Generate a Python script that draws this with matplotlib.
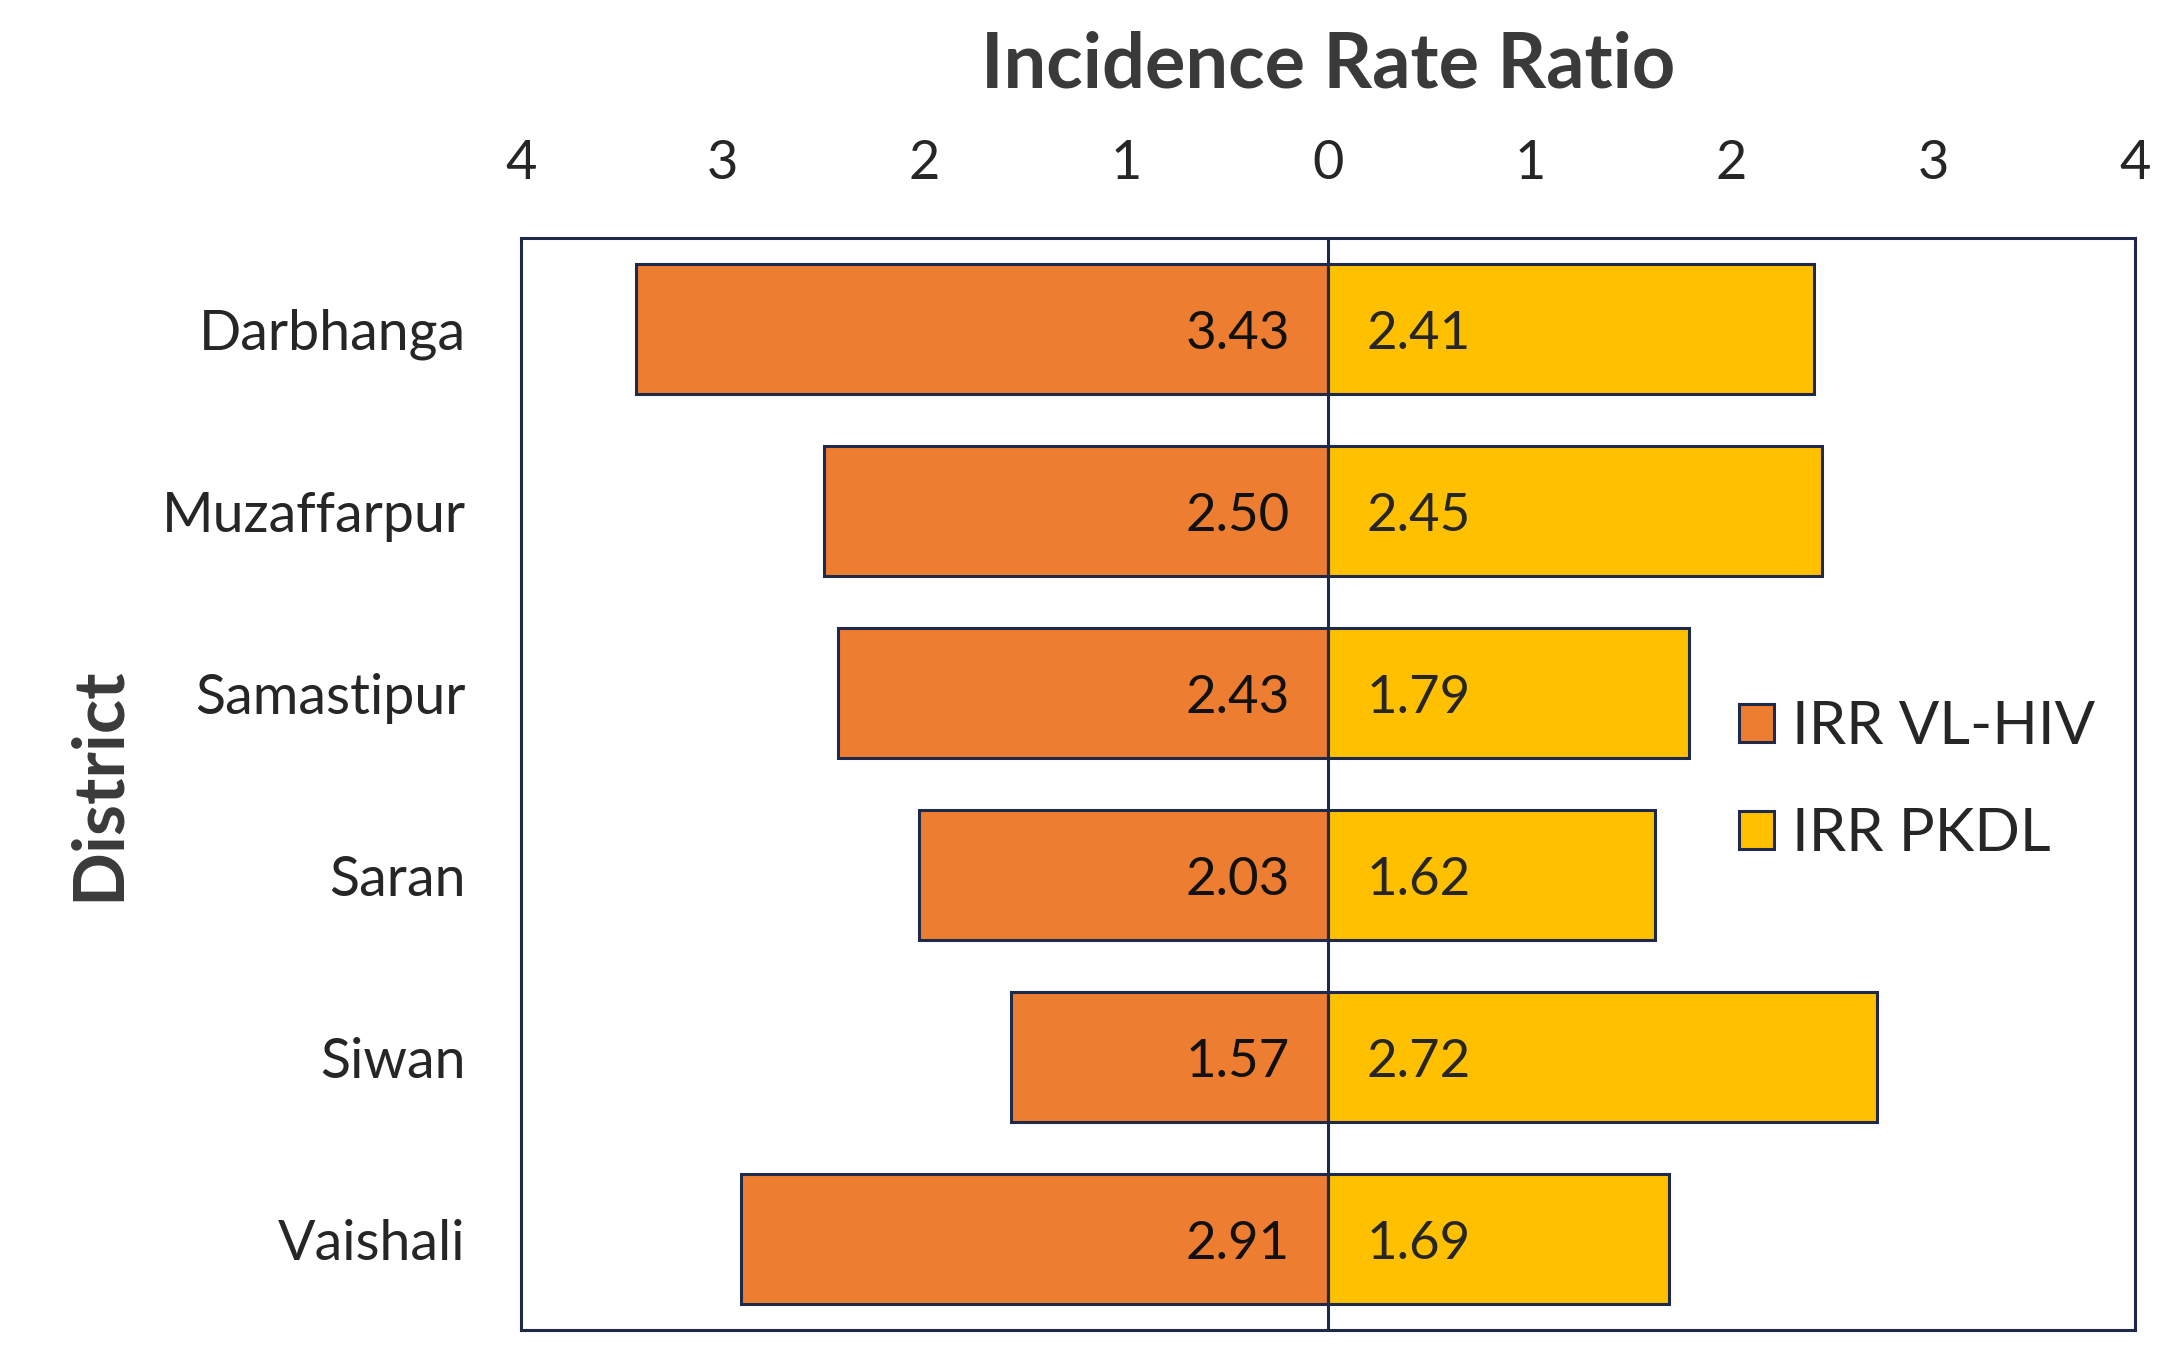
import numpy as np
import matplotlib
matplotlib.use("Agg")
import matplotlib.pyplot as plt
from matplotlib.patches import Patch

# ---------- data ----------
districts = ["Darbhanga", "Muzaffarpur", "Samastipur", "Saran", "Siwan", "Vaishali"]
irr_vl_hiv = [3.43, 2.50, 2.43, 2.03, 1.57, 2.91]
irr_pkdl   = [2.41, 2.45, 1.79, 1.62, 2.72, 1.69]
tick_vals  = [-4, -3, -2, -1, 0, 1, 2, 3, 4]

ORANGE = "#ED7D31"
YELLOW = "#FFC000"
NAVY   = "#1F2A4A"
TEXT   = "#262626"

plt.rcParams["font.family"] = ["Lato", "DejaVu Sans"]

fig = plt.figure(figsize=(21.65, 13.47), dpi=100)
ax = fig.add_axes([0.2407, 0.0126, 0.7455, 0.8107])

y = np.arange(len(districts))
h = 0.71
ax.barh(y, -np.array(irr_vl_hiv), height=h, color=ORANGE, edgecolor=NAVY, linewidth=2.2,
        label="IRR VL-HIV", zorder=2)
ax.barh(y, irr_pkdl, height=h, color=YELLOW, edgecolor=NAVY, linewidth=2.2,
        label="IRR PKDL", zorder=2)
ax.axvline(0, color=NAVY, linewidth=2.2, zorder=3)

# value labels (slightly below centre, like the original)
for yi, v in zip(y, irr_vl_hiv):
    ax.text(-0.19, yi + 0.03, f"{v:.2f}", ha="right", va="center", fontsize=38, color="#111111", zorder=4)
for yi, v in zip(y, irr_pkdl):
    ax.text(0.19, yi + 0.03, f"{v:.2f}", ha="left", va="center", fontsize=38, color=TEXT, zorder=4)

ax.set_xlim(-4, 4)
ax.set_ylim(len(districts) - 0.5, -0.5)
ax.set_yticks(y)
ax.set_yticklabels(districts, fontsize=40, color=TEXT)
ax.xaxis.tick_top()
ax.xaxis.set_label_position("top")
ax.set_xticks(tick_vals)
ax.set_xticklabels([str(abs(t)) for t in tick_vals], fontsize=39, color=TEXT)
ax.tick_params(axis="both", length=0)
ax.tick_params(axis="x", pad=36)
ax.tick_params(axis="y", pad=40)

ax.set_xlabel("Incidence Rate Ratio", fontsize=54.5, fontweight="bold", color="#3a3a3a", labelpad=37)
ax.set_ylabel("District", fontsize=51, fontweight="bold", color="#3a3a3a", labelpad=22)

for s in ax.spines.values():
    s.set_color(NAVY)
    s.set_linewidth(2.2)

handles = [Patch(facecolor=ORANGE, edgecolor=NAVY, linewidth=2.2, label="IRR VL-HIV"),
           Patch(facecolor=YELLOW, edgecolor=NAVY, linewidth=2.2, label="IRR PKDL")]
leg = ax.legend(handles=handles, loc="center left", bbox_to_anchor=(0.721, 0.503),
                frameon=False, fontsize=43, handlelength=0.6, handleheight=0.6,
                handletextpad=0.3, labelspacing=0.89, labelcolor=TEXT)

fig.savefig("out.png", dpi=100)
